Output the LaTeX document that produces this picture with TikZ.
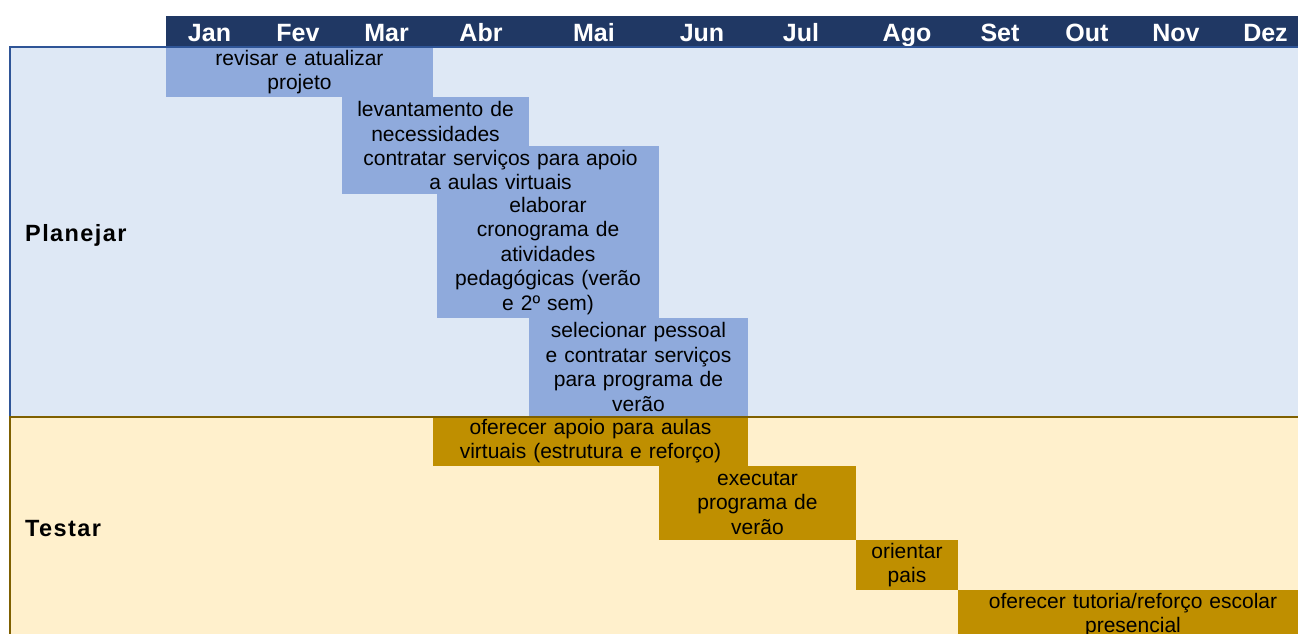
\documentclass[tikz,border=0pt]{standalone}
\usepackage{fontspec}
\setmainfont{Liberation Sans}
\definecolor{navy}{HTML}{203864}
\definecolor{planfill}{HTML}{DEE8F5}
\definecolor{planline}{HTML}{2F5597}
\definecolor{testfill}{HTML}{FFF0CC}
\definecolor{testline}{HTML}{7F6000}
\definecolor{bluebar}{HTML}{8FAADC}
\definecolor{goldbar}{HTML}{BF8F00}
\tikzset{
  month/.style={text=white, font=\fontsize{25}{28}\selectfont\bfseries, inner sep=0pt, anchor=base},
  bartext/.style={inner sep=0pt, align=center, font=\fontsize{21}{24.5}\selectfont, text=black},
  planbar/.style={bartext, fill=bluebar},
  testbar/.style={bartext, fill=goldbar},
  phase/.style={font=\fontsize{23.5}{28}\selectfont\bfseries\addfontfeature{LetterSpace=6}, inner sep=0pt, anchor=base west},
}
\begin{document}
\begin{tikzpicture}[x=1pt,y=-1pt]
\useasboundingbox (0,0) rectangle (1298,633);
\clip (0,0) rectangle (1298,633);
\fill[white] (0,0) rectangle (1298,633);
% header
\fill[navy] (166,16) rectangle (1310,47);
\foreach \m/\x in {Jan/209.5,Fev/298,Mar/386.5,Abr/481,Mai/594,Jun/702,Jul/801,Ago/907,Set/1000,Out/1087,Nov/1176,Dez/1265.5}
  \node[month] (m\m) at (\x,41) {\m};
% phase regions
\fill[planfill] (10,47) rectangle (1310,416);
\fill[testfill] (10,416) rectangle (1310,640);
\node[phase] (plan) at (25,241.7) {Planejar};
\node[phase] (test) at (25,536.7) {Testar};
% planning bars
\node[planbar, text width=267pt, minimum height=50pt] (b1) at (299.5,72) {revisar e atualizar\\projeto};
\node[planbar, text width=187pt, minimum height=49pt] (b2) at (435.5,121.5) {levantamento de\\necessidades};
\node[planbar, text width=317pt, minimum height=48pt] (b3) at (500.5,170) {contratar serviços para apoio\\a aulas virtuais};
\node[planbar, text width=222pt, minimum height=124pt] (b4) at (548,256) {elaborar\\cronograma de\\atividades\\pedagógicas (verão\\e 2º sem)};
\node[planbar, text width=219pt, minimum height=98pt] (b5) at (638.5,367) {selecionar pessoal\\e contratar serviços\\para programa de\\verão};
% testing bars
\node[testbar, text width=315pt, minimum height=50pt] (t1) at (590.5,441) {oferecer apoio para aulas\\virtuais (estrutura e reforço)};
\node[testbar, text width=197pt, minimum height=74pt] (t2) at (757.5,503) {executar\\programa de\\verão};
\node[testbar, text width=102pt, minimum height=50pt] (t3) at (907,565) {orientar\\pais};
\node[testbar, text width=350pt, minimum height=50pt] (t4) at (1133,615) {oferecer tutoria/reforço escolar\\presencial};
% borders
\draw[planline, line width=2pt] (10,417) -- (10,47) -- (1310,47);
\draw[testline, line width=2.2pt] (10,640) -- (10,417) -- (1310,417);
\end{tikzpicture}
\end{document}
